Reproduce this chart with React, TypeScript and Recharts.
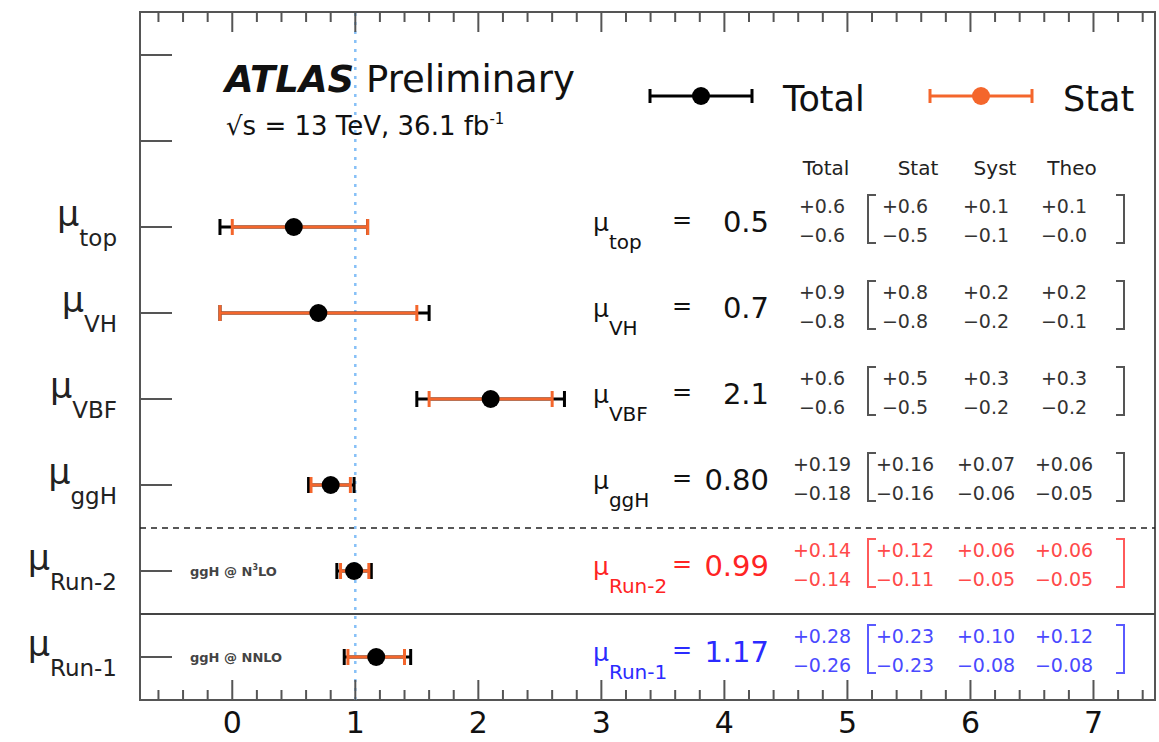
import React from "react";
import {
  ScatterChart,
  Scatter,
  XAxis,
  YAxis,
  ErrorBar,
  ReferenceLine,
  ReferenceArea,
} from "recharts";

// rows from bottom (index 0) to top
const rowNames = ["Run-1", "Run-2", "ggH", "VBF", "VH", "top"];
const muValues = [1.17, 0.99, 0.8, 2.1, 0.7, 0.5];
const totalUp = [0.28, 0.14, 0.19, 0.6, 0.9, 0.6];
const totalDown = [0.26, 0.14, 0.18, 0.6, 0.8, 0.6];
const statUp = [0.23, 0.12, 0.16, 0.5, 0.8, 0.6];
const statDown = [0.23, 0.11, 0.16, 0.5, 0.8, 0.5];
const systUp = [0.1, 0.06, 0.07, 0.3, 0.2, 0.1];
const systDown = [0.08, 0.05, 0.06, 0.2, 0.2, 0.1];
const theoUp = [0.12, 0.06, 0.06, 0.3, 0.2, 0.1];
const theoDown = [0.08, 0.05, 0.05, 0.2, 0.1, 0.0];
const decimals = [2, 2, 2, 1, 1, 1];
const orderNotes = ["ggH @ NNLO", "ggH @ N³LO", "", "", "", ""];
const columnHeaders = ["Total", "Stat", "Syst", "Theo"];

const xMajorTicks = [0, 1, 2, 3, 4, 5, 6, 7];
const yRowTicks = [0, 1, 2, 3, 4, 5, 6, 7];

const W = 1159;
const H = 742;
const PLOT_TOP = 12;
const FONT = "'DejaVu Sans', sans-serif";
const ORANGE = "#f4662c";
const FRAME = "#555";

const xTicks: number[] = [];
for (let k = -3; k <= 37; k++) xTicks.push(Math.round(k * 2) / 10);

const points = muValues.map((v, i) => ({
  x: v,
  y: i,
  totalErr: [totalDown[i], totalUp[i]],
  statErr: [statDown[i], statUp[i]],
}));

const rowColor = (i: number) => (i === 1 ? "#ff2424" : i === 0 ? "#2b2bff" : "#111");
const errColor = (i: number) => (i === 1 ? "#ff4a4a" : i === 0 ? "#4a4aff" : "#333");
const bracketColor = (i: number) => (i === 1 ? "#ff5a5a" : i === 0 ? "#5a5aff" : "#555");

const up = (v: number, d: number) => "+" + v.toFixed(d);
const dn = (v: number, d: number) => "\u2212" + v.toFixed(d);

const Bracket = ({ x, y, dir, color }: { x: number; y: number; dir: 1 | -1; color: string }) => (
  <path
    d={`M${x + dir * 8},${y - 32} L${x},${y - 32} L${x},${y + 16} L${x + dir * 8},${y + 16}`}
    fill="none"
    stroke={color}
    strokeWidth={2}
  />
);

const Note = ({ x, y, text }: { x: number; y: number; text: string }) => {
  const parts = text.split("³");
  return (
    <text x={x} y={y} fontSize={13} fontWeight="bold" fill="#444" fontFamily={FONT}>
      {parts[0]}
      {parts.length > 1 && (
        <>
          <tspan fontSize={8} dy={-6}>3</tspan>
          <tspan dy={6}>{parts[1]}</tspan>
        </>
      )}
    </text>
  );
};

const RowTick = (props: any) => {
  const { y, payload } = props;
  const ax = 140;
  const i: number = payload.value;
  const tick = <line x1={ax} x2={ax + 32} y1={y} y2={y} stroke={FRAME} strokeWidth={2} />;
  if (i >= rowNames.length) return <g>{tick}</g>;
  const d = decimals[i];
  const c = rowColor(i);
  const ec = errColor(i);
  const cols = [
    [905, statUp[i], statDown[i]],
    [986, systUp[i], systDown[i]],
    [1064, theoUp[i], theoDown[i]],
  ];
  return (
    <g fontFamily={FONT}>
      {tick}
      <text x={117} y={y - 1} textAnchor="end" fill="#222">
        <tspan fontSize={35}>μ</tspan>
        <tspan fontSize={23} dy={20}>{rowNames[i]}</tspan>
      </text>
      {orderNotes[i] && <Note x={190} y={y + 5} text={orderNotes[i]} />}
      <text x={593} y={y + 4} fill={c}>
        <tspan fontSize={25}>μ</tspan>
        <tspan fontSize={20} dy={18}>{rowNames[i]}</tspan>
      </text>
      <text x={682} y={y + 1} fill={c} fontSize={24} textAnchor="middle">=</text>
      <text x={769} y={y + 5} fill={c} fontSize={29} textAnchor="end">{muValues[i].toFixed(d)}</text>
      <text x={822} y={y - 14} fill={ec} fontSize={19} textAnchor="middle">{up(totalUp[i], d)}</text>
      <text x={822} y={y + 15} fill={ec} fontSize={19} textAnchor="middle">{dn(totalDown[i], d)}</text>
      <Bracket x={868} y={y} dir={1} color={bracketColor(i)} />
      {cols.map(([cx, u, l], k) => (
        <g key={k}>
          <text x={cx} y={y - 14} fill={ec} fontSize={19} textAnchor="middle">{up(u, d)}</text>
          <text x={cx} y={y + 15} fill={ec} fontSize={19} textAnchor="middle">{dn(l, d)}</text>
        </g>
      ))}
      <Bracket x={1124} y={y} dir={-1} color={bracketColor(i)} />
    </g>
  );
};

const XTick = (props: any) => {
  const { x, y, payload } = props;
  const v: number = payload.value;
  const major = xMajorTicks.some((m) => Math.abs(m - v) < 1e-6);
  const len = major ? 20 : 10;
  return (
    <g>
      <line x1={x} x2={x} y1={y} y2={y - len} stroke={FRAME} strokeWidth={2} />
      <line x1={x} x2={x} y1={PLOT_TOP} y2={PLOT_TOP + len} stroke={FRAME} strokeWidth={2} />
      {major && (
        <text x={x} y={y + 33} textAnchor="middle" fontSize={30} fill="#111" fontFamily={FONT}>
          {Math.round(v)}
        </text>
      )}
    </g>
  );
};

const Dot = (p: any) => <circle cx={p.cx} cy={p.cy} r={9} fill="#000" />;

const LegendItem = ({ x, color, label }: { x: number; color: string; label: string }) => (
  <g>
    <line x1={x} x2={x + 102} y1={96} y2={96} stroke={color} strokeWidth={3} />
    <line x1={x} x2={x} y1={89} y2={103} stroke={color} strokeWidth={3} />
    <line x1={x + 102} x2={x + 102} y1={89} y2={103} stroke={color} strokeWidth={3} />
    <circle cx={x + 51} cy={96} r={9} fill={color} />
    <text x={x + 133} y={111} fontSize={35} fill="#111" fontFamily={FONT}>{label}</text>
  </g>
);

export default function App() {
  return (
    <div style={{ position: "absolute", left: 0, top: 0, width: W, height: H, background: "#fff", fontFamily: FONT }}>
      <ScatterChart width={W} height={H} margin={{ top: PLOT_TOP, right: 4, bottom: 0, left: 0 }}>
        <XAxis
          type="number"
          dataKey="x"
          domain={[-0.75, 7.5]}
          ticks={xTicks}
          interval={0}
          height={42}
          tickSize={0}
          tickMargin={0}
          axisLine={false}
          tickLine={false}
          tick={<XTick />}
          allowDataOverflow
        />
        <YAxis
          type="number"
          dataKey="y"
          domain={[-0.5, 7.5]}
          ticks={yRowTicks}
          interval={0}
          width={140}
          tickSize={0}
          tickMargin={0}
          axisLine={false}
          tickLine={false}
          tick={<RowTick />}
          allowDataOverflow
        />
        <ReferenceArea x1={-0.75} x2={7.5} y1={-0.5} y2={7.5} fill="none" stroke={FRAME} strokeWidth={2} fillOpacity={0} />
        <ReferenceLine y={1.5} stroke="#222" strokeWidth={1.5} strokeDasharray="6 5" />
        <ReferenceLine y={0.5} stroke="#444" strokeWidth={2} />
        <ReferenceLine x={1} stroke="#86c0f7" strokeWidth={2.5} strokeDasharray="3 6" />
        <Scatter data={points} isAnimationActive={false} shape={<Dot />}>
          <ErrorBar dataKey="totalErr" direction="x" width={8} stroke="#000" strokeWidth={3} />
          <ErrorBar dataKey="statErr" direction="x" width={8} stroke={ORANGE} strokeWidth={3} />
        </Scatter>
      </ScatterChart>
      <svg width={W} height={H} style={{ position: "absolute", left: 0, top: 0, pointerEvents: "none" }}>
        <text x={225} y={92} fontSize={37} fill="#111" fontFamily={FONT}>
          <tspan fontWeight="bold" fontStyle="italic">ATLAS</tspan>
          <tspan> Preliminary</tspan>
        </text>
        <text x={226} y={135} fontSize={26} fill="#111" fontFamily={FONT}>
          √s = 13 TeV, 36.1 fb
          <tspan fontSize={15} dy={-11}>-1</tspan>
        </text>
        <LegendItem x={650} color="#000" label={columnHeaders[0]} />
        <LegendItem x={930} color={ORANGE} label={columnHeaders[1]} />
        {columnHeaders.map((h, k) => (
          <text key={h} x={[826, 918, 995, 1072][k]} y={175} fontSize={20} fill="#222" textAnchor="middle" fontFamily={FONT}>
            {h}
          </text>
        ))}
      </svg>
    </div>
  );
}
